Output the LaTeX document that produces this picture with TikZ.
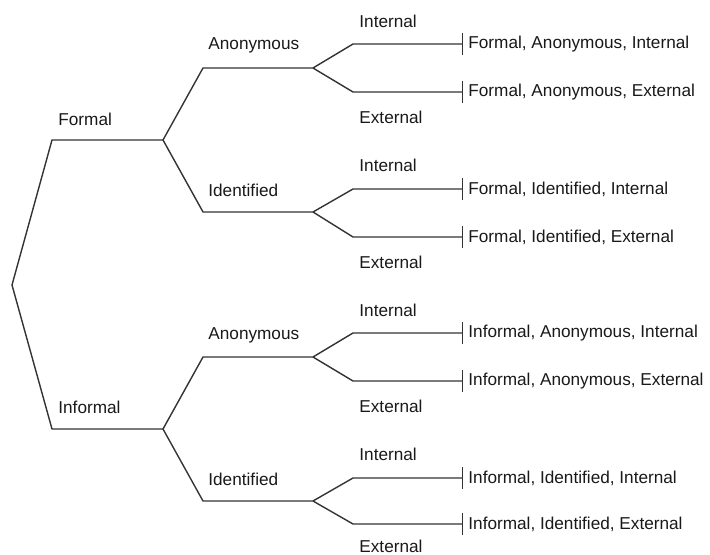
\documentclass[tikz,border=0pt]{standalone}
\usepackage{fontspec}
\setmainfont{Liberation Sans}
\usetikzlibrary{arrows.meta}
\tikzset{
    branch/.style={line width=0.7pt, draw=black!80, line join=round},
    leafline/.style={branch, -{Bar[width=11pt, line width=0.7pt]}},
    lbl/.style={anchor=west, inner sep=0pt, text=black!90, font=\fontsize{8.6}{10}\selectfont},
    leaf/.style={lbl, inner sep=2.5pt}
}

\begin{document}
\begin{tikzpicture}[x=0.5pt, y=-0.5pt]
    \useasboundingbox (0,0) rectangle (710,555);
    % formal / informal
    \coordinate (root) at (12,285);
    \coordinate (f) at (52,140);   \coordinate (fs) at (163,140);
    \coordinate (i) at (52,429);   \coordinate (is) at (163,429);
    \draw[branch] (fs) -- (f) -- (root) -- (i) -- (is);
    \node[lbl] (formal) at (58,119) {Formal};
    \node[lbl] (informal) at (58,407) {Informal};
    % anonymous / identified
    \coordinate (fa) at (203,68);  \coordinate (fas) at (313,68);
    \coordinate (fi) at (203,212); \coordinate (fis) at (313,212);
    \coordinate (ia) at (203,357); \coordinate (ias) at (313,357);
    \coordinate (ii) at (203,501); \coordinate (iis) at (313,501);
    \draw[branch] (fas) -- (fa) -- (fs) -- (fi) -- (fis);
    \draw[branch] (ias) -- (ia) -- (is) -- (ii) -- (iis);
    \node[lbl] (fa-l) at (208,45) {Anonymous};
    \node[lbl] (fi-l) at (208,190) {Identified};
    \node[lbl] (ia-l) at (208,335) {Anonymous};
    \node[lbl] (ii-l) at (208,479) {Identified};
    % internal / external, formal
    \coordinate (fas-u) at (353,44);  \coordinate (fas-d) at (353,92);
    \node[leaf] (fai) at (463,44) {Formal, Anonymous, Internal};
    \node[leaf] (fae) at (463,92) {Formal, Anonymous, External};
    \draw[leafline] (fas) -- (fas-u) -- (fai.west);
    \draw[leafline] (fas) -- (fas-d) -- (fae.west);
    \node[lbl] at (359,21) {Internal};
    \node[lbl] at (359,117) {External};
    \coordinate (fis-u) at (353,189); \coordinate (fis-d) at (353,237);
    \node[leaf] (fii) at (463,189) {Formal, Identified, Internal};
    \node[leaf] (fie) at (463,237) {Formal, Identified, External};
    \draw[leafline] (fis) -- (fis-u) -- (fii.west);
    \draw[leafline] (fis) -- (fis-d) -- (fie.west);
    \node[lbl] at (359,165) {Internal};
    \node[lbl] at (359,262) {External};
    % internal / external, informal
    \coordinate (ias-u) at (353,333); \coordinate (ias-d) at (353,381);
    \node[leaf] (iai) at (463,333) {Informal, Anonymous, Internal};
    \node[leaf] (iae) at (463,381) {Informal, Anonymous, External};
    \draw[leafline] (ias) -- (ias-u) -- (iai.west);
    \draw[leafline] (ias) -- (ias-d) -- (iae.west);
    \node[lbl] at (359,310) {Internal};
    \node[lbl] at (359,406) {External};
    \coordinate (iis-u) at (353,478); \coordinate (iis-d) at (353,524);
    \node[leaf] (iii) at (463,478) {Informal, Identified, Internal};
    \node[leaf] (iie) at (463,524) {Informal, Identified, External};
    \draw[leafline] (iis) -- (iis-u) -- (iii.west);
    \draw[leafline] (iis) -- (iis-d) -- (iie.west);
    \node[lbl] at (359,454) {Internal};
    \node[lbl] at (359,546) {External};
\end{tikzpicture}
\end{document}
